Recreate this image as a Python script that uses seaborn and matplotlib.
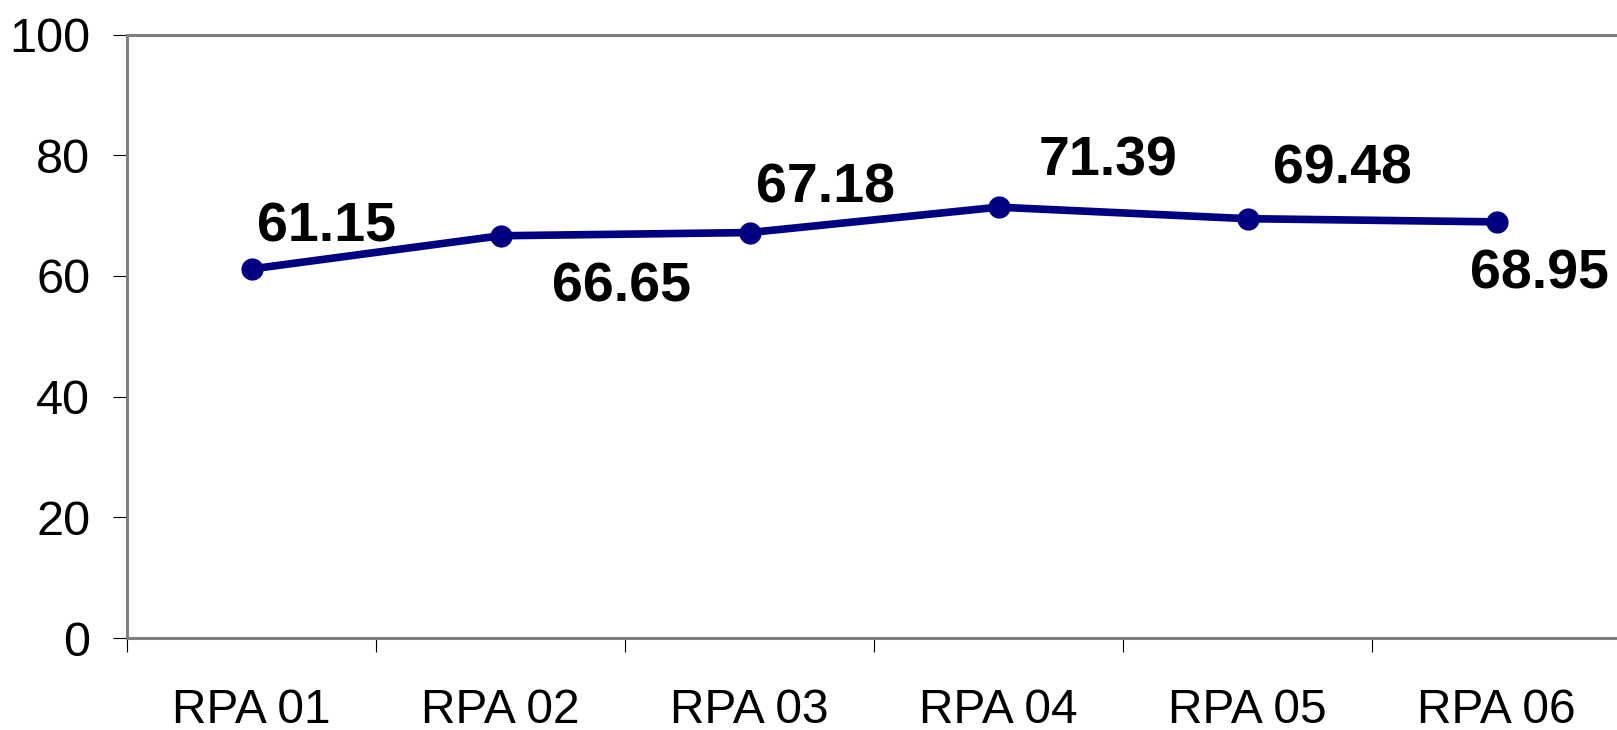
import pandas as pd
import matplotlib
matplotlib.use('Agg')
import matplotlib.pyplot as plt
import numpy as np
import seaborn as sns

# data
categories = ['RPA 01', 'RPA 02', 'RPA 03', 'RPA 04', 'RPA 05', 'RPA 06']
values = [61.15, 66.65, 67.18, 71.39, 69.48, 68.95]
y_ticks = [0, 20, 40, 60, 80, 100]

# label offsets (points) relative to each marker
label_offsets = [(54, 19.5), (87, -47.5), (55, 21.5), (78.5, 22.5), (68, 25), (31, -48)]

df = pd.DataFrame({'rpa': categories, 'value': values})

sns.set_style('white')
plt.rcParams['font.family'] = ['Liberation Sans', 'DejaVu Sans']

fig = plt.figure(figsize=(16.17, 7.3), dpi=100)
ax = fig.add_axes([127 / 1617, 92 / 730, 1494 / 1617, 603.5 / 730])

sns.lineplot(data=df, x='rpa', y='value', ax=ax, sort=False, color='#000080',
             linewidth=5.5, marker='o', markersize=16, markeredgewidth=0)

for i, (v, off) in enumerate(zip(values, label_offsets)):
    ax.annotate(f'{v:.2f}', (i, v), xytext=off, textcoords='offset points',
                ha='center', va='baseline', fontsize=40, fontweight='bold', color='black')

ax.set_xlim(-0.5, len(categories) - 0.5)
ax.set_ylim(0, 100)
ax.set_yticks(y_ticks)
ax.set_yticklabels([str(t) for t in y_ticks])

# boundary ticks between categories, labels centred on categories
ax.set_xticks(np.arange(-0.5, len(categories), 1))
ax.set_xticklabels([])
ax.set_xticks(np.arange(len(categories)), minor=True)
ax.set_xticklabels(categories, minor=True)
ax.tick_params(axis='x', which='major', length=10, width=0.8, color='black', direction='out', bottom=True)
ax.tick_params(axis='x', which='minor', length=0, pad=36, labelsize=34.5, labelcolor='black')
ax.tick_params(axis='y', length=10, width=0.8, color='black', direction='out', left=True,
               pad=16.5, labelsize=35, labelcolor='black')

ax.set_xlabel('')
ax.set_ylabel('')
ax.grid(False)
for side in ['left', 'bottom', 'top', 'right']:
    ax.spines[side].set_color('#808080')
    ax.spines[side].set_linewidth(2.2)

fig.savefig('out.png', dpi=100, facecolor='white')
